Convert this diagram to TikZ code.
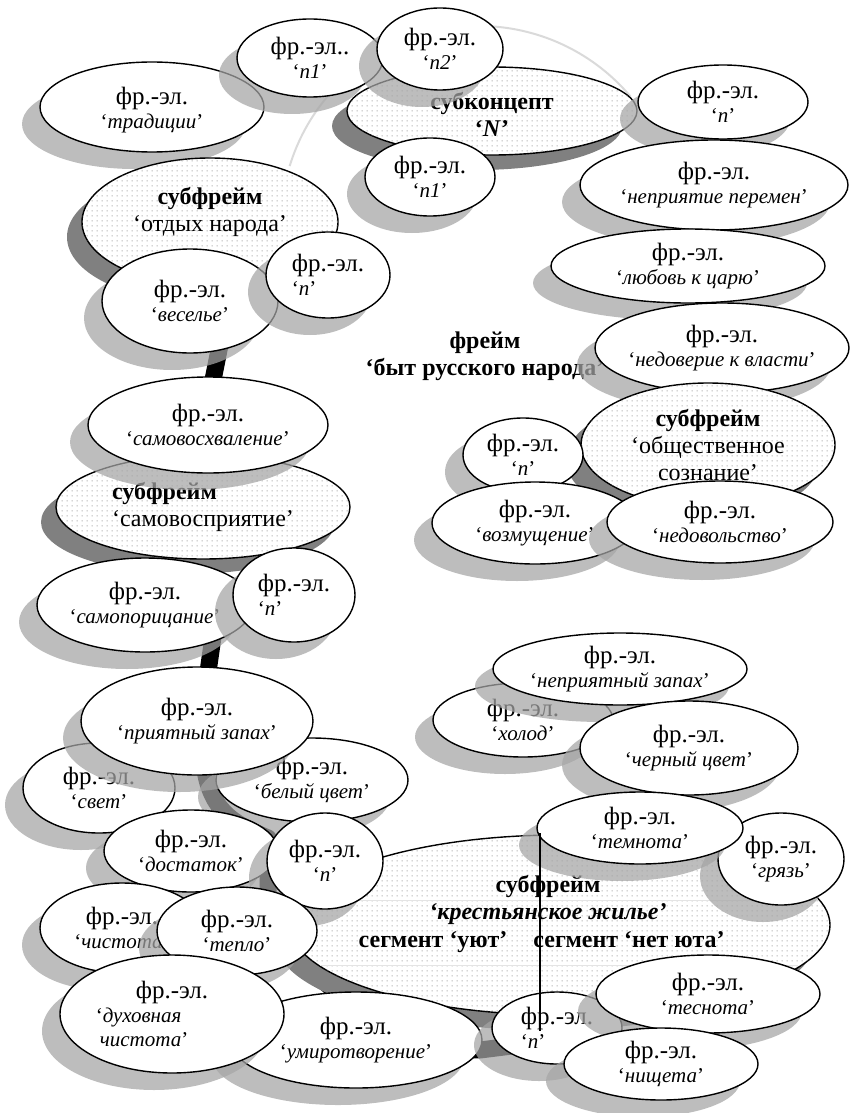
\documentclass[tikz,border=0pt]{standalone}
\usepackage{fontspec}
\setmainfont{Liberation Serif}
\usetikzlibrary{shapes.geometric,shadows,patterns.meta}

\definecolor{shlight}{RGB}{165,165,165}
\definecolor{shdark}{RGB}{128,128,128}
\definecolor{dotcol}{RGB}{140,140,140}
\definecolor{arccol}{RGB}{218,218,218}
\definecolor{rulecol}{RGB}{228,228,228}

% sparse dot screen for the sub-frames
\tikzdeclarepattern{
  name=sparsedots,
  type=uncolored,
  bottom left={(0pt,0pt)},
  top right={(5pt,5pt)},
  tile size={(5pt,5pt)},
  code={\fill (2.5pt,2.5pt) circle (0.7pt);}
}

\newcommand\fre{фр.-эл.}
\newcommand\qi[1]{{\fontsize{21}{24}\selectfont‘\textit{#1}’}}

\tikzset{
  oval/.style={ellipse, draw, line width=1.4pt, fill=white, inner sep=0pt},
  fe/.style={oval, general shadow={fill=shlight, fill opacity=0.73,
      shadow xshift=-18pt, shadow yshift=-17pt}},
  sub/.style={oval, general shadow={fill=shdark,
      shadow xshift=-15pt, shadow yshift=-15pt},
    postaction={pattern=sparsedots, pattern color=dotcol}},
  lbl/.style={inner sep=0pt, align=center, font=\fontsize{25}{24}\selectfont},
  sublbl/.style={lbl, font=\fontsize{24}{27}\selectfont},
  spine/.style={line width=17pt, line join=round, black},
  arcline/.style={draw=arccol, line width=2pt},
  rule/.style={draw=rulecol, line width=0.8pt},
  divider/.style={draw=black, line width=1.6pt},
}

\begin{document}
\begin{tikzpicture}[x=1pt,y=-1pt]
\useasboundingbox (0,0) rectangle (850,1113);

% faint arc of the frame
\coordinate (arcC) at (479,224);
\draw[arcline] (arcC) ++(-163:198) arc[start angle=-163, end angle=-40, radius=198];

% thick spine running behind the nodes
\coordinate (s1) at (229,300);
\coordinate (s2) at (207,410);
\coordinate (s3) at (214,630);
\coordinate (s4) at (204,700);
\coordinate (s5) at (205,770);
\coordinate (c1) at (212,815);
\coordinate (c2) at (240,826);
\coordinate (s6) at (268,838);
\coordinate (s7) at (268,895);
\coordinate (c3) at (290,990);
\coordinate (c4) at (420,1050);
\coordinate (s8) at (480,1050);
\coordinate (s9) at (560,1040);
\draw[spine] (s1) -- (s2) -- (s3) -- (s4) -- (s5) .. controls (c1) and (c2) .. (s6)
  -- (s7) .. controls (c3) and (c4) .. (s8) -- (s9);

% ---- upper cluster
\node[fe, minimum width=224pt, minimum height=90pt] (trad) at (152,107) {};
\node[lbl] (tradT) at (152,110) {\fre\\\qi{традиции}};

\node[fe, minimum width=146pt, minimum height=78pt] (nOneTop) at (310,58) {};
\node[lbl] (nOneTopT) at (nOneTop) {фр.-эл..\\\qi{n1}};

\node[sub, minimum width=290pt, minimum height=88pt] (subN) at (492,111) {};
\node[sublbl] (subNT) at (492,114) {\textbf{субконцепт}\\\textbf{‘\textit{N}’}};

\node[fe, minimum width=126pt, minimum height=82pt] (nTwo) at (440,49) {};
\node[lbl] (nTwoT) at (nTwo) {\fre\\\qi{n2}};

\node[fe, minimum width=130pt, minimum height=78pt] (nOneLow) at (430,177) {};
\node[lbl] (nOneLowT) at (nOneLow) {\fre\\\qi{n1}};

\node[fe, minimum width=170pt, minimum height=74pt] (nTR) at (723,102) {};
\node[lbl] (nTRT) at (nTR) {\fre\\\qi{n}};

\node[fe, minimum width=268pt, minimum height=90pt] (neprijatie) at (714,185) {};
\node[lbl] (neprijatieT) at (neprijatie) {\fre\\\qi{неприятие перемен}};

\node[fe, minimum width=274pt, minimum height=74pt] (ljubov) at (688,266) {};
\node[lbl] (ljubovT) at (ljubov) {\fre\\\qi{любовь к царю}};

\node[sub, minimum width=256pt, minimum height=128pt] (otdyh) at (210,222) {};
\node[sublbl] (otdyhT) at (210,212) {\textbf{субфрейм}\\‘отдых народа’};

\node[fe, minimum width=176pt, minimum height=104pt] (vesel) at (190,301) {};
\node[lbl] (veselT) at (vesel) {\fre\\\qi{веселье}};

\node[fe, minimum width=124pt, minimum height=86pt] (nVes) at (328,275) {};
\node[lbl, align=left] (nVesT) at (nVes) {\fre\\\qi{n}};

% ---- frame title
\node[sublbl] (frameT) at (485,356) {\textbf{фрейм}\\\textbf{‘быт русского народа’}};

% ---- right cluster
\node[fe, minimum width=254pt, minimum height=90pt] (nedover) at (722,348) {};
\node[lbl] (nedoverT) at (nedover) {\fre\\\qi{недоверие к власти}};

\node[sub, minimum width=254pt, minimum height=124pt] (obshch) at (708,445) {};
\node[sublbl] (obshchT) at (obshch) {\textbf{субфрейм}\\‘общественное\\сознание’};

\node[fe, minimum width=120pt, minimum height=74pt] (nObsh) at (523,455) {};
\node[lbl] (nObshT) at (nObsh) {\fre\\\qi{n}};

\node[fe, minimum width=206pt, minimum height=82pt] (vozm) at (535,523) {};
\node[lbl] (vozmT) at (vozm) {\fre\\\qi{возмущение}};

\node[fe, minimum width=226pt, minimum height=82pt] (nedov) at (720,522) {};
\node[lbl] (nedovT) at (nedov) {\fre\\\qi{недовольство}};

% ---- left column
\node[sub, minimum width=294pt, minimum height=104pt] (samovospr) at (203,507) {};
\node[sublbl, align=left] (samovosprT) at (samovospr) {\textbf{субфрейм}\\‘самовосприятие’};

\node[fe, minimum width=240pt, minimum height=96pt] (samovosh) at (208,425) {};
\node[lbl] (samovoshT) at (samovosh) {\fre\\\qi{самовосхваление}};

\node[fe, minimum width=216pt, minimum height=94pt] (samopor) at (145,605) {};
\node[lbl] (samoporT) at (samopor) {\fre\\\qi{самопорицание}};

\node[fe, minimum width=122pt, minimum height=94pt] (nSamo) at (294,595) {};
\node[lbl, align=left] (nSamoT) at (nSamo) {\fre\\\qi{n}};

\node[fe, minimum width=152pt, minimum height=90pt] (svet) at (99,788) {};
\node[lbl] (svetT) at (svet) {\fre\\\qi{свет}};

\node[fe, minimum width=192pt, minimum height=84pt] (belyj) at (312,780) {};
\node[lbl] (belyjT) at (belyj) {\fre\\\qi{белый цвет}};

\node[fe, minimum width=232pt, minimum height=108pt] (prijat) at (197,721) {};
\node[lbl] (prijatT) at (prijat) {\fre\\\qi{приятный запах}};

% ---- smells and colours on the right
\node[fe, minimum width=180pt, minimum height=74pt] (holod) at (523,720) {};
\node[lbl] (holodT) at (holod) {\fre\\\qi{холод}};

\node[fe, minimum width=254pt, minimum height=72pt] (neprijZap) at (620,669) {};
\node[lbl] (neprijZapT) at (neprijZap) {\fre\\\qi{неприятный запах}};

\node[fe, minimum width=218pt, minimum height=94pt] (chern) at (689,748) {};
\node[lbl] (chernT) at (chern) {\fre\\\qi{черный цвет}};

% ---- the dwelling sub-frame
\node[sub, minimum width=540pt, minimum height=180pt] (izba) at (560,925) {};
\coordinate (r1a) at (303,900);
\coordinate (r1b) at (816,900);
\coordinate (r2a) at (320,965);
\coordinate (r2b) at (798,965);
\draw[rule] (r1a) -- (r1b);
\draw[rule] (r2a) -- (r2b);
\node[sublbl] (izbaT) at (548,900) {\textbf{субфрейм}\\\textbf{\textit{‘крестьянское жилье’}}};
\node[sublbl, anchor=base] (segA) at (433,947) {\textbf{сегмент ‘уют’}};
\node[sublbl, anchor=base] (segB) at (629,947) {\textbf{сегмент ‘нет юта’}};

\node[fe, minimum width=174pt, minimum height=82pt] (dostatok) at (191,851) {};
\node[lbl] (dostatokT) at (dostatok) {\fre\\\qi{достаток}};

\node[fe, minimum width=116pt, minimum height=96pt] (nDost) at (325,861) {};
\node[lbl] (nDostT) at (nDost) {\fre\\\qi{n}};

\node[fe, minimum width=164pt, minimum height=90pt] (chistota) at (122,928) {};
\node[lbl] (chistotaT) at (chistota) {\fre\\\qi{чистота}};

\node[fe, minimum width=160pt, minimum height=88pt] (teplo) at (237,931) {};
\node[lbl] (teploT) at (teplo) {\fre\\\qi{тепло}};

\node[fe, minimum width=252pt, minimum height=96pt] (umir) at (356,1040) {};
\node[lbl] (umirT) at (umir) {\fre\\\qi{умиротворение}};

\node[fe, minimum width=224pt, minimum height=118pt] (duh) at (172,1014) {};
\node[lbl, align=left] (duhT) at (152,1014) {\hspace*{40pt}\fre\\
  {\fontsize{21}{24}\selectfont‘\textit{духовная}}\\
  {\fontsize{21}{24}\selectfont\hspace*{4pt}\textit{чистота}’}};

\node[fe, minimum width=126pt, minimum height=92pt] (grjaz) at (781,859) {};
\node[lbl] (grjazT) at (grjaz) {\fre\\\qi{грязь}};

\node[fe, minimum width=206pt, minimum height=72pt] (temnota) at (640,828) {};
\node[lbl] (temnotaT) at (temnota) {\fre\\\qi{темнота}};

\node[fe, minimum width=130pt, minimum height=72pt] (nBot) at (557,1028) {};
\node[lbl, align=left] (nBotT) at (nBot) {\fre\\\qi{n}};

\node[fe, minimum width=224pt, minimum height=78pt] (tesnota) at (708,994) {};
\node[lbl] (tesnotaT) at (tesnota) {\fre\\\qi{теснота}};

\node[fe, minimum width=194pt, minimum height=72pt] (nischeta) at (661,1064) {};
\node[lbl] (nischetaT) at (nischeta) {\fre\\\qi{нищета}};

% segment divider
\coordinate (dv1) at (540,833);
\coordinate (dv2) at (540,1031);
\draw[divider] (dv1) -- (dv2);
\end{tikzpicture}
\end{document}
